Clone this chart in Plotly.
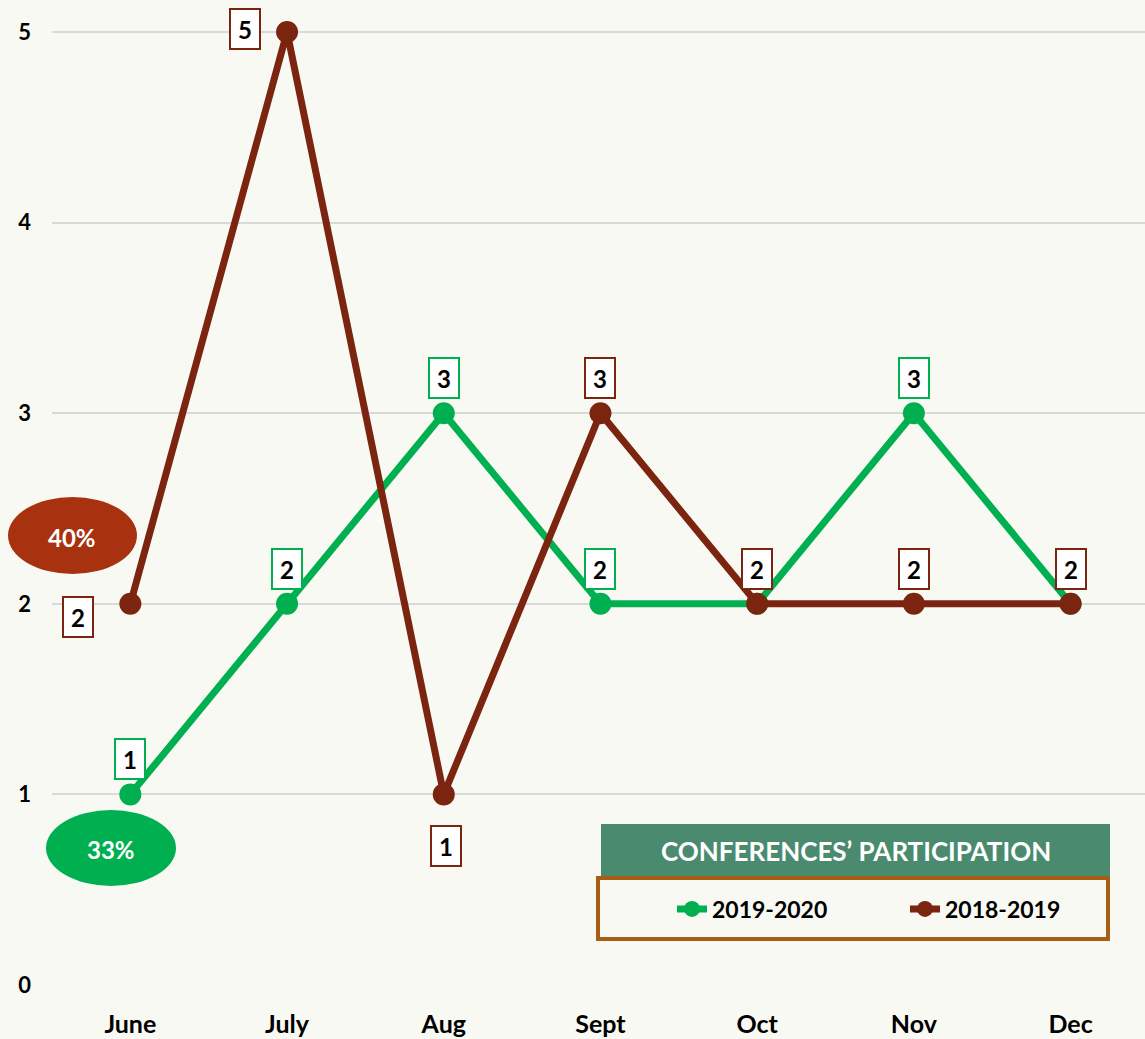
import plotly.graph_objects as go

months = ["June", "July", "Aug", "Sept", "Oct", "Nov", "Dec"]
s2019_2020 = [1, 2, 3, 2, 2, 3, 2]
s2018_2019 = [2, 5, 1, 3, 2, 2, 2]
y_ticks = [0, 1, 2, 3, 4, 5]
pct_2019_2020 = "33%"
pct_2018_2019 = "40%"
chart_title = "CONFERENCES’ PARTICIPATION"

GREEN = "#00B050"
BROWN = "#7B2410"
RUST = "#A83210"
BG = "#F9F9F4"
FONT = "Lato"

W, H = 1145, 1039
ML, MR, MT, MB = 52, 0, 4, 54
PW, PH = W - ML - MR, H - MT - MB


def px(x):
    return (x - ML) / PW


def py(y):
    return (H - MB - y) / PH


fig = go.Figure()
fig.add_trace(go.Scatter(
    x=months, y=s2019_2020, name="2019-2020", mode="lines+markers",
    line=dict(color=GREEN, width=7), marker=dict(color=GREEN, size=22),
    cliponaxis=False))
fig.add_trace(go.Scatter(
    x=months, y=s2018_2019, name="2018-2019", mode="lines+markers",
    line=dict(color=BROWN, width=7), marker=dict(color=BROWN, size=22),
    cliponaxis=False))

annotations = []


def label(x, y, color, xs=0, ys=35):
    annotations.append(dict(
        x=x, y=y, xref="x", yref="y", text=f"<b>{y}</b>", showarrow=False,
        xshift=xs, yshift=ys, width=28, height=38, bgcolor="white",
        bordercolor=color, borderwidth=2, borderpad=0,
        xanchor="center", yanchor="middle",
        font=dict(family=FONT, size=24, color="black")))


# green labels (above points)
for m, v in zip(months, s2019_2020):
    label(m, v, GREEN)

# brown labels with custom offsets
brown_offsets = {"June": (-52, -13), "July": (-42, 3), "Aug": (2, -52)}
for m, v in zip(months, s2018_2019):
    xs, ys = brown_offsets.get(m, (0, 35))
    label(m, v, BROWN, xs, ys)


def paper_text(x, y, text, size):
    annotations.append(dict(x=px(x), y=py(y), xref="paper", yref="paper",
                            xanchor="center", yanchor="middle",
                            text=f"<b>{text}</b>", showarrow=False,
                            font=dict(family=FONT, size=size, color="white")))


shapes = []
# percentage ellipses
shapes.append(dict(type="circle", xref="paper", yref="paper",
                   x0=px(8), x1=px(137), y0=py(574), y1=py(497),
                   fillcolor=RUST, line=dict(width=0), layer="above"))
paper_text(72, 537, pct_2018_2019, 24)
shapes.append(dict(type="circle", xref="paper", yref="paper",
                   x0=px(46), x1=px(176), y0=py(886), y1=py(810),
                   fillcolor=GREEN, line=dict(width=0), layer="above"))
paper_text(111, 849, pct_2019_2020, 24)

# legend header and frame
shapes.append(dict(type="rect", xref="paper", yref="paper",
                   x0=px(601), x1=px(1110), y0=py(876), y1=py(824),
                   fillcolor="#4A8A6E", line=dict(width=0), layer="above"))
paper_text(856, 851, chart_title, 26)
shapes.append(dict(type="rect", xref="paper", yref="paper",
                   x0=px(598), x1=px(1108), y0=py(939), y1=py(878),
                   fillcolor=BG, line=dict(width=4, color="#A65E17"), layer="below"))

fig.update_layout(
    width=W, height=H,
    margin=dict(l=ML, r=MR, t=MT, b=MB),
    paper_bgcolor=BG, plot_bgcolor=BG,
    showlegend=True,
    legend=dict(orientation="h", x=px(672), y=py(909), xanchor="left", yanchor="middle",
                bgcolor="rgba(0,0,0,0)", borderwidth=0, entrywidth=188,
                font=dict(family=FONT, size=23, color="black", weight="bold")),
    xaxis=dict(range=[-0.5, 6.475], showgrid=False, zeroline=False, showline=False,
               ticks="", ticklabelstandoff=22,
               tickfont=dict(family=FONT, size=25, color="black", weight="bold")),
    yaxis=dict(range=[0, 5.147], tickvals=y_ticks, showgrid=True, gridcolor="#D9D9D9",
               gridwidth=2, zeroline=False, showline=False, ticks="",
               ticklabelstandoff=20,
               tickfont=dict(family=FONT, size=22, color="black", weight="bold")),
    shapes=shapes, annotations=annotations,
)

fig.write_html("out.html", config={"displayModeBar": False},
               post_script="document.body.style.margin='0';")
